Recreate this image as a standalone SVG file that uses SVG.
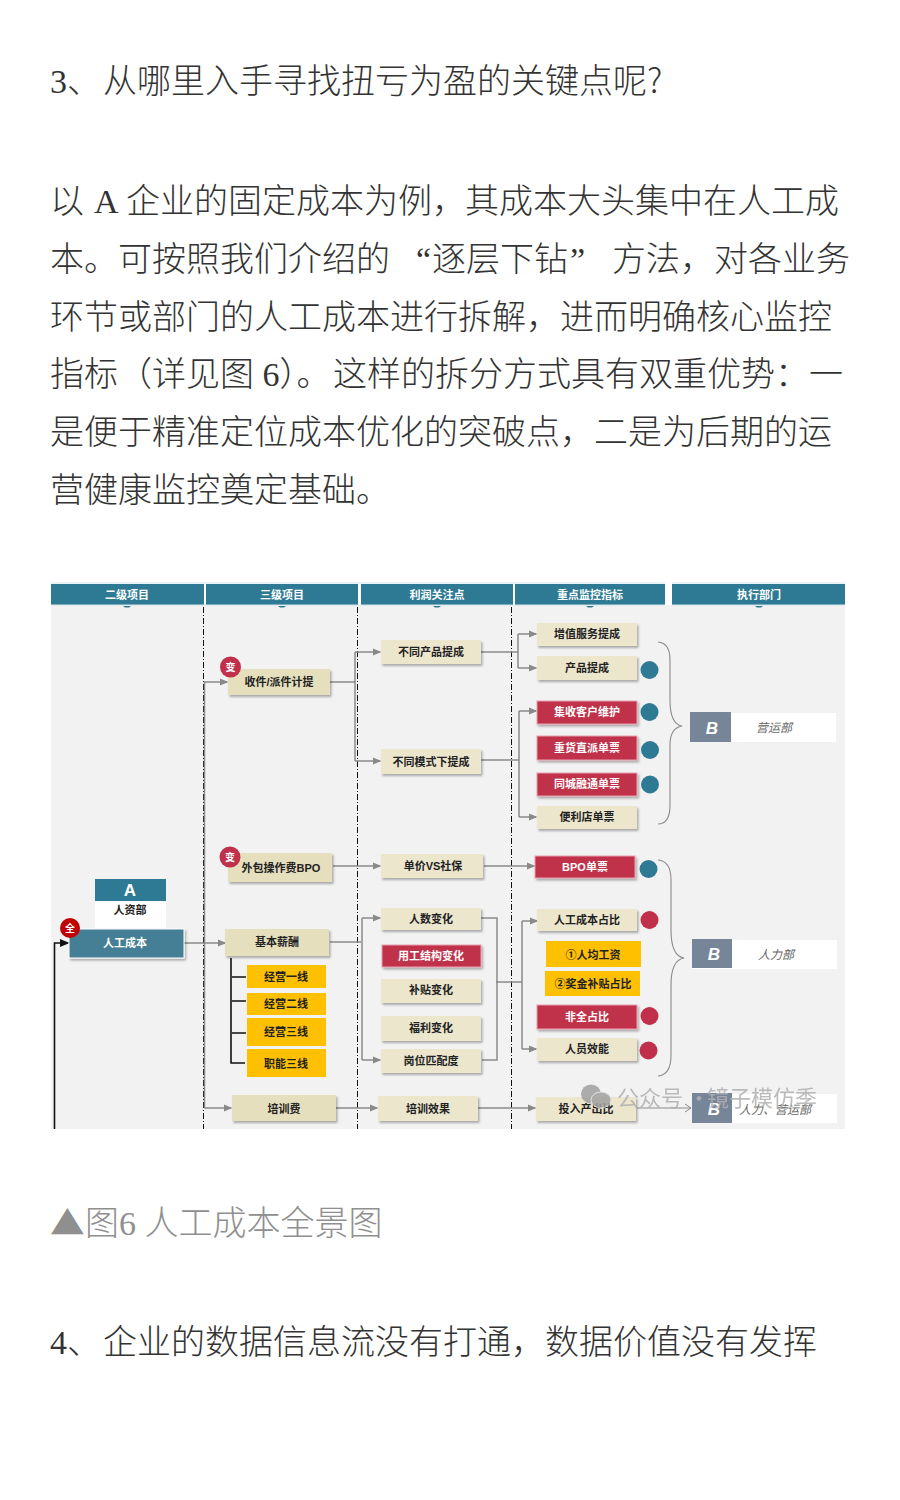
<svg xmlns="http://www.w3.org/2000/svg" width="900" height="1500" viewBox="0 0 900 1500">
<defs>
<style>
.t{font-family:"Liberation Serif","Noto Sans CJK SC",serif;font-size:34px;font-weight:300;fill:#333}
.c{font-family:"Liberation Sans","Noto Sans CJK SC",sans-serif;font-size:11px;font-weight:700;text-anchor:middle;fill:#222}
.w{fill:#fff}
.head{fill:#2e7a94}
.beige{fill:#ece6cd}
.tan{fill:#e6dfbd}
.red{fill:#c0304a}
.yel{fill:#ffc000}
.dash{fill:none;stroke:#111;stroke-width:1;stroke-dasharray:6 2 1 2}
.g{fill:none;stroke:#8a8a8a;stroke-width:1.5}
.k{fill:none;stroke:#111;stroke-width:1.6}
.dept{font-family:"Liberation Sans","Noto Sans CJK SC",sans-serif;font-size:12px;font-style:italic;text-anchor:middle;fill:#666}
.b{font-family:"Liberation Sans",sans-serif;font-size:17px;font-weight:700;font-style:italic;text-anchor:middle;fill:#fff}
</style>
<marker id="a" markerWidth="6" markerHeight="6" refX="5" refY="3" orient="auto"><path d="M0 .5L6 3L0 5.500z" fill="#8a8a8a"/></marker>
<marker id="ao" markerWidth="8" markerHeight="10" refX="7" refY="5" orient="auto"><path d="M1 1L7 5L1 9" fill="none" stroke="#8a8a8a"/></marker>
<marker id="ak" markerWidth="6" markerHeight="6" refX="5" refY="3" orient="auto"><path d="M0 .5L6 3L0 5.500z" fill="#111"/></marker>
<filter id="s" x="-10%" y="-20%" width="125%" height="150%"><feDropShadow dx="1.5" dy="2" stdDeviation="1.2" flood-color="#000" flood-opacity=".3"/></filter>
</defs>
<rect width="900" height="1500" fill="#fff"/>
<g id="article">
<text class="t" x="50" y="93">3<tspan x="67">、</tspan><tspan x="103">从哪里入手寻找扭亏为盈的关键点呢</tspan><tspan x="647" style="font-family:'Noto Sans CJK SC',sans-serif">?</tspan></text>
<text class="t" x="50" y="213">以<tspan x="94">A</tspan><tspan x="126">企业的固定成本为例，</tspan><tspan x="465">其成本大头集中在人工成</tspan></text>
<text class="t" x="50" y="271">本。可按照我们介绍的<tspan x="416">“</tspan><tspan x="432">逐层下钻</tspan><tspan x="570">”</tspan><tspan x="612">方法，对各业务</tspan></text>
<text class="t" x="50" y="329">环节或部门的人工成本进行拆解，进而明确核心监控</text>
<text class="t" x="50" y="386">指标（详见图 6）。<tspan x="333">这样的拆分方式具有双重优势：一</tspan></text>
<text class="t" x="50" y="444">是便于精准定位成本优化的突破点，二是为后期的运</text>
<text class="t" x="50" y="502">营健康监控奠定基础。</text>
<text class="t" transform="translate(51 1230) scale(1.04 .84)" style="fill:#8f8f8f;font-family:'DejaVu Sans',sans-serif;font-size:41px;font-weight:400">▲</text>
<text class="t" x="85" y="1235" style="fill:#8f8f8f">图6 人工成本全景图</text>
<text class="t" x="50" y="1354">4<tspan x="67">、</tspan><tspan x="103">企业的数据信息流没有打通，数据价值没有发挥</tspan></text>
</g>
<rect id="panel" x="51" y="605" width="794" height="524" fill="#f2f2f2"/>
<g id="headers">
<path d="M51 583H665M672 583H845" stroke="#d5e6eb" fill="none"/>
<rect class="head" x="51" y="584" width="153" height="21"/><rect class="head" x="206" y="584" width="152" height="21"/><rect class="head" x="361" y="584" width="152" height="21"/><rect class="head" x="515" y="584" width="150" height="21"/><rect class="head" x="672" y="584" width="173" height="21"/>
<path d="M51 605H665M672 605H845" stroke="#cfe4ea" fill="none"/>
<path class="head" d="M123 606H131L129 607.500H125zM278 606H286L284 607.500H280zM433 606H441L439 607.500H435zM586 606H594L592 607.500H588zM755 606H763L761 607.500H757z"/>
<text class="c w" x="127" y="599">二级项目</text><text class="c w" x="282" y="599">三级项目</text><text class="c w" x="437" y="599">利润关注点</text><text class="c w" x="590" y="599">重点监控指标</text><text class="c w" x="759" y="599">执行部门</text>
</g>
<g id="connectors">
<path class="dash" d="M203.500 607V1129M357.500 607V1129M511.500 607V1129"/>
<path class="g" d="M204.500 1108V682H227" marker-end="url(#a)"/>
<path class="g" d="M204.500 1108H231" marker-end="url(#a)"/>
<path class="g" d="M184 943H225" marker-end="url(#a)"/>
<path class="g" d="M330 682H355M355 652V761M355 652H380" marker-end="url(#a)"/>
<path class="g" d="M355 761H380" marker-end="url(#a)"/>
<path class="g" d="M333 866H380" marker-end="url(#a)"/>
<path class="g" d="M330 942H361M362 918V1060M362 918H380" marker-end="url(#a)"/>
<path class="g" d="M362 1060H380" marker-end="url(#a)"/>
<path class="g" d="M336 1108H377" marker-end="url(#a)"/>
<path class="g" d="M481 652H518M518 634V668M518 634H536" marker-end="url(#a)"/>
<path class="g" d="M518 668H536" marker-end="url(#a)"/>
<path class="g" d="M481 760H519M519 711V817M519 711H536" marker-end="url(#a)"/>
<path class="g" d="M519 817H536" marker-end="url(#a)"/>
<path class="g" d="M484 866H534" marker-end="url(#a)"/>
<path class="g" d="M481 918H497V1060H482M496 982H522M522 921V1049M522 921H537" marker-end="url(#a)"/>
<path class="g" d="M522 1049H536" marker-end="url(#a)"/>
<path class="g" d="M478 1108H535" marker-end="url(#a)"/>
<path d="M637 1108H691" fill="none" stroke="#8a8a8a" stroke-width="1" marker-end="url(#ao)"/>
<path class="k" d="M231 958V1063H245M232 977H246M232 1001H246M232 1033H246"/>
<path class="k" d="M54.500 1129V943H68" marker-end="url(#ak)"/>
<path d="M658 642Q670 643 670 660V700Q670 724 682 726Q670 728 670 745V805Q670 824 658 824M658 860Q671 861 671 880V930Q671 956 684 958Q671 960 671 985V1055Q671 1075 658 1076" fill="none" stroke="#8a8a8a" stroke-width="1.100"/>
</g>
<g id="nodes">
<g id="n-a"><rect x="95" y="879" width="71" height="22" class="head"/><rect x="95" y="901" width="71" height="27" fill="#fff"/><text x="130" y="896" class="c w" style="font-size:17px">A</text><text x="130" y="914" class="c">人资部</text></g>
<g id="n-cost"><rect x="69" y="929" width="115" height="29" fill="#457f96" stroke="#fff" filter="url(#s)"/><text x="125" y="947" class="c w">人工成本</text></g>
<g id="n-quan"><circle cx="70" cy="928" r="10" fill="#c00000"/><text x="70" y="932" class="c w" style="font-size:10px">全</text></g>
<g id="l3-1"><rect x="228" y="669" width="102" height="26" class="tan" filter="url(#s)"/><text x="279" y="686" class="c">收件/派件计提</text></g>
<g id="bian1"><circle cx="230.500" cy="667" r="10.500" fill="#c0304a"/><text x="230.500" y="671" class="c w" style="font-size:10px">变</text></g>
<g id="l3-2"><rect x="228" y="853" width="104" height="29" class="tan" filter="url(#s)"/><text x="281" y="872" class="c">外包操作费BPO</text></g>
<g id="bian2"><circle cx="230" cy="857" r="10.500" fill="#c0304a"/><text x="230" y="861" class="c w" style="font-size:10px">变</text></g>
<g id="l3-3"><rect x="225" y="929" width="104" height="27" class="tan" filter="url(#s)"/><text x="277" y="946" class="c">基本薪酬</text></g>
<g id="l3-4"><rect x="232" y="1095" width="104" height="26" class="tan" filter="url(#s)"/><text x="284" y="1113" class="c">培训费</text></g>
<g id="y1"><rect x="247" y="965" width="79" height="23" class="yel"/><text x="286" y="981" class="c">经营一线</text></g>
<g id="y2"><rect x="247" y="993" width="79" height="22" class="yel"/><text x="286" y="1008" class="c">经营二线</text></g>
<g id="y3"><rect x="247" y="1018" width="79" height="28" class="yel"/><text x="286" y="1036" class="c">经营三线</text></g>
<g id="y4"><rect x="247" y="1049" width="79" height="28" class="yel"/><text x="286" y="1068" class="c">职能三线</text></g>
<g id="p1"><rect x="381" y="640" width="100" height="24" class="beige" filter="url(#s)"/><text x="431" y="656" class="c">不同产品提成</text></g>
<g id="p2"><rect x="381" y="749" width="100" height="25" class="beige" filter="url(#s)"/><text x="431" y="766" class="c">不同模式下提成</text></g>
<g id="p3"><rect x="381" y="854" width="102" height="24" class="beige" filter="url(#s)"/><text x="433" y="870" class="c">单价VS社保</text></g>
<g id="p4"><rect x="381" y="908" width="100" height="22" class="beige" filter="url(#s)"/><text x="431" y="923" class="c">人数变化</text></g>
<g id="p5"><rect x="382" y="945" width="99" height="22" class="red" stroke="#e8a0ae" filter="url(#s)"/><text x="431" y="960" class="c w">用工结构变化</text></g>
<g id="p6"><rect x="381" y="979" width="100" height="24" class="beige" filter="url(#s)"/><text x="431" y="994" class="c">补贴变化</text></g>
<g id="p7"><rect x="381" y="1016" width="100" height="25" class="beige" filter="url(#s)"/><text x="431" y="1032" class="c">福利变化</text></g>
<g id="p8"><rect x="381" y="1049" width="100" height="24" class="beige" filter="url(#s)"/><text x="431" y="1065" class="c">岗位匹配度</text></g>
<g id="p9"><rect x="378" y="1096" width="100" height="25" class="beige" filter="url(#s)"/><text x="428" y="1113" class="c">培训效果</text></g>
<g id="m1"><rect x="537" y="623" width="100" height="23" class="beige" filter="url(#s)"/><text x="587" y="638" class="c">增值服务提成</text></g>
<g id="m2"><rect x="537" y="656" width="100" height="24" class="beige" filter="url(#s)"/><text x="587" y="672" class="c">产品提成</text></g>
<g id="m3"><rect x="537" y="701" width="100" height="23" class="red" stroke="#e8a0ae" filter="url(#s)"/><text x="587" y="716" class="c w">集收客户维护</text></g>
<g id="m4"><rect x="537" y="736" width="100" height="24" class="red" stroke="#e8a0ae" filter="url(#s)"/><text x="587" y="752" class="c w">重货直派单票</text></g>
<g id="m5"><rect x="537" y="773" width="100" height="23" class="red" stroke="#e8a0ae" filter="url(#s)"/><text x="587" y="788" class="c w">同城融通单票</text></g>
<g id="m6"><rect x="537" y="806" width="100" height="23" class="beige" filter="url(#s)"/><text x="587" y="821" class="c">便利店单票</text></g>
<g id="m7"><rect x="535" y="856" width="100" height="22" class="red" stroke="#e8a0ae" filter="url(#s)"/><text x="585" y="871" class="c w">BPO单票</text></g>
<g id="m8"><rect x="537" y="909" width="100" height="22" class="beige" filter="url(#s)"/><text x="587" y="924" class="c">人工成本占比</text></g>
<g id="m9"><rect x="546" y="941" width="95" height="26" class="yel"/><text x="593" y="959" class="c">①人均工资</text></g>
<g id="m10"><rect x="545" y="971" width="95" height="25" class="yel"/><text x="593" y="988" class="c">②奖金补贴占比</text></g>
<g id="m11"><rect x="537" y="1005" width="100" height="24" class="red" stroke="#e8a0ae" filter="url(#s)"/><text x="587" y="1021" class="c w">非全占比</text></g>
<g id="m12"><rect x="537" y="1038" width="100" height="23" class="beige" filter="url(#s)"/><text x="587" y="1053" class="c">人员效能</text></g>
<g id="m13"><rect x="536" y="1097" width="100" height="24" class="beige" filter="url(#s)"/><text x="586" y="1113" class="c">投入产出比</text></g>
<g id="dots">
<circle cx="649.500" cy="670" r="9" fill="#2e7a94"/><circle cx="649.500" cy="712" r="9" fill="#2e7a94"/><circle cx="650" cy="750" r="9" fill="#2e7a94"/><circle cx="650" cy="784.500" r="9" fill="#2e7a94"/><circle cx="648.500" cy="869" r="9" fill="#2e7a94"/>
<circle cx="649.500" cy="920" r="9" fill="#c0304a"/><circle cx="649.500" cy="1016" r="9" fill="#c0304a"/><circle cx="648.500" cy="1050.500" r="9" fill="#c0304a"/>
</g>
<g id="d1"><rect x="690" y="713" width="146" height="29" fill="#fff"/><rect x="690" y="712" width="41" height="30" fill="#768598"/><text x="712" y="734" class="b">B</text><text x="774" y="732" class="dept">营运部</text></g>
<g id="d2"><rect x="692" y="940" width="145" height="29" fill="#fff"/><rect x="692" y="939" width="40" height="29" fill="#768598"/><text x="714" y="960" class="b">B</text><text x="776" y="959" class="dept">人力部</text></g>
<g id="d3"><rect x="692" y="1094" width="145" height="29" fill="#fff"/><rect x="692" y="1093" width="40" height="30" fill="#768598"/><text x="714" y="1115" class="b">B</text><text x="775" y="1114" class="dept">人力、营运部</text></g>
</g>
<g id="watermark" opacity=".85">
<ellipse cx="591" cy="1094" rx="10" ry="9.500" fill="#a0a0a0"/><ellipse cx="601" cy="1100" rx="10" ry="8" fill="#a0a0a0" stroke="#e0e0e0"/>
<text x="617" y="1106" style="font-family:'Noto Sans CJK SC',sans-serif;font-size:22px;fill:#b0b0b0">公众号<tspan x="688">·</tspan><tspan x="707">镜子模仿季</tspan></text>
</g>
</svg>
